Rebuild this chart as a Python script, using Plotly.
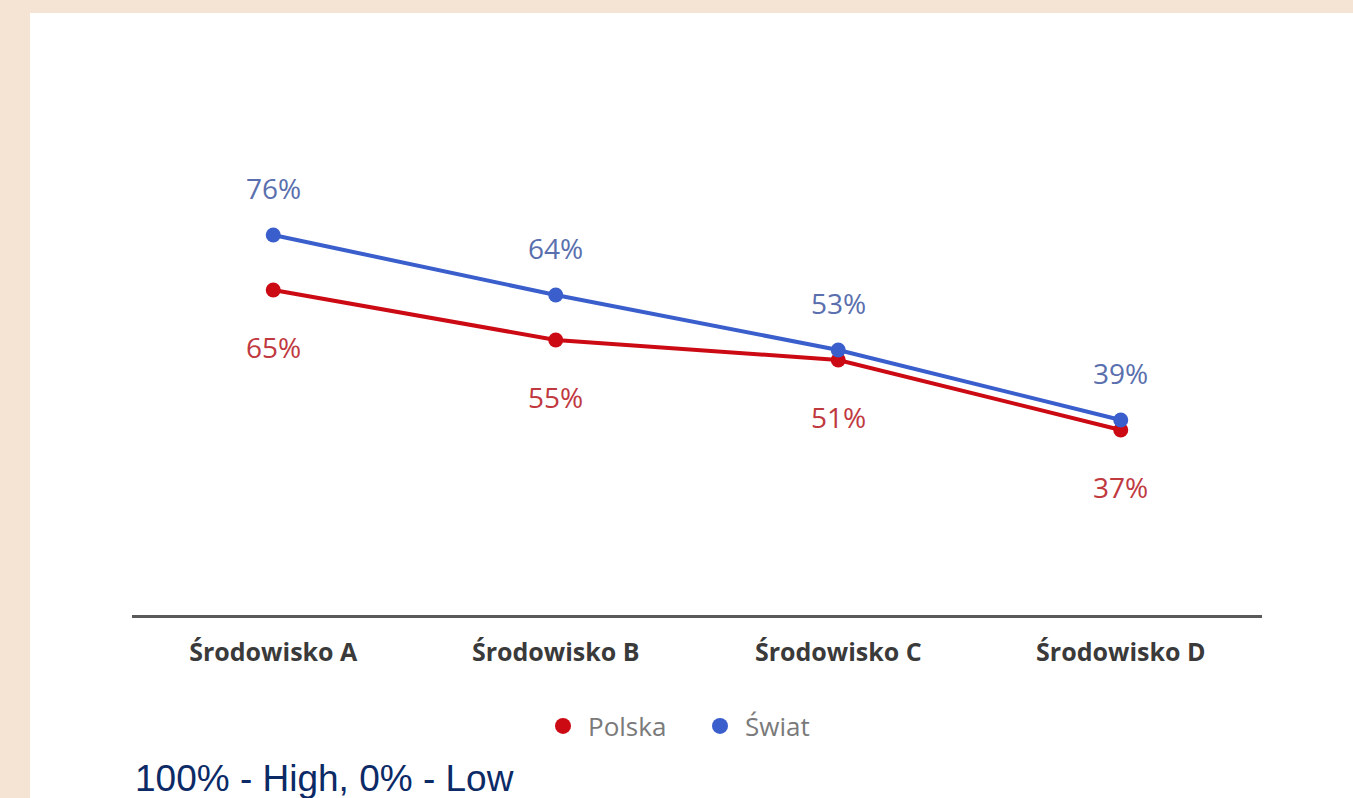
import plotly.graph_objects as go

W, H = 1353, 798

categories = ["Środowisko A", "Środowisko B", "Środowisko C", "Środowisko D"]
polska = [65, 55, 51, 37]
swiat = [76, 64, 53, 39]

RED = "#cc0a14"
BLUE = "#3a5fcd"
RED_LABEL = "#c0393f"
BLUE_LABEL = "#5a6fae"
FONT = "Open Sans, Roboto, Arial"

def px_x(p):
    return p / W

def px_y(p):
    return 1 - p / H

fig = go.Figure()

x_idx = list(range(len(categories)))

for vals, color in ((polska, RED), (swiat, BLUE)):
    fig.add_trace(go.Scatter(
        x=x_idx, y=vals, mode="lines+markers",
        line=dict(color=color, width=4),
        marker=dict(color=color, size=15),
        showlegend=False, hoverinfo="skip",
    ))

# legend entries drawn as plain dots
for name, color in (("Polska", RED), ("Świat", BLUE)):
    fig.add_trace(go.Scatter(
        x=[None], y=[None], mode="markers", name=name,
        marker=dict(color=color, size=21),
    ))

annotations = []
for i, v in enumerate(swiat):
    annotations.append(dict(
        x=i, y=v, xref="x", yref="y", text=f"{v}%", showarrow=False,
        yshift=47, font=dict(family=FONT, size=28, color=BLUE_LABEL, weight=500),
    ))
for i, v in enumerate(polska):
    annotations.append(dict(
        x=i, y=v, xref="x", yref="y", text=f"{v}%", showarrow=False,
        yshift=-57, font=dict(family=FONT, size=28, color=RED_LABEL, weight=500),
    ))

annotations.append(dict(
    x=px_x(133), y=px_y(778), xref="paper", yref="paper",
    xanchor="left", yanchor="middle", showarrow=False,
    text="100% - High, 0% - Low",
    font=dict(family="Liberation Sans, Arial", size=37, color="#0b2a66"),
))

fig.update_layout(
    width=W, height=H,
    margin=dict(l=0, r=0, t=0, b=0),
    paper_bgcolor="#f5e4d3",
    plot_bgcolor="rgba(0,0,0,0)",
    shapes=[dict(
        type="rect", xref="paper", yref="paper", layer="below",
        x0=px_x(30), x1=1, y0=0, y1=px_y(13),
        fillcolor="white", line=dict(width=0),
    )],
    xaxis=dict(
        domain=[px_x(132), px_x(1262)],
        range=[-0.5, 3.5],
        tickmode="array", tickvals=x_idx, ticktext=categories,
        showgrid=False, zeroline=False,
        showline=True, linecolor="#5a5a5a", linewidth=2.5,
        ticks="outside", ticklen=13, tickcolor="rgba(0,0,0,0)",
        tickfont=dict(family=FONT, size=25, color="#3a3a3a", weight="bold"),
    ),
    yaxis=dict(
        domain=[px_y(615), px_y(115)],
        range=[0, 100],
        showgrid=False, zeroline=False, showline=False,
        showticklabels=False,
    ),
    legend=dict(
        orientation="h", x=px_x(538), y=px_y(726),
        xanchor="left", yanchor="middle",
        itemwidth=40, entrywidth=102,
        font=dict(family=FONT, size=26, color="#7a7a7a"),
        bgcolor="rgba(0,0,0,0)",
    ),
    annotations=annotations,
)

fig.write_html("out.html")
